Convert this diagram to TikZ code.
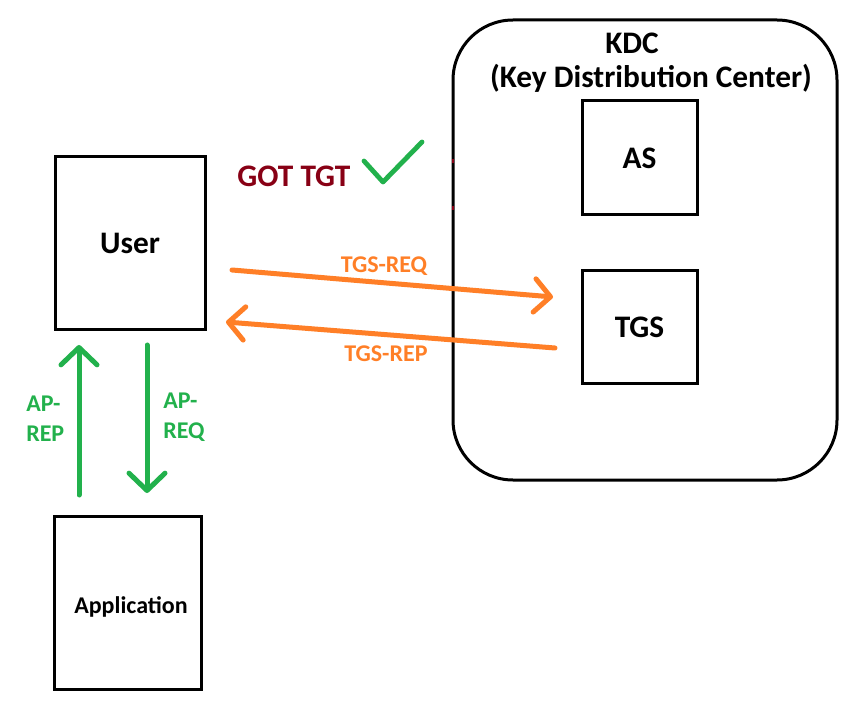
\documentclass[tikz,border=0pt]{standalone}
\usepackage{fontspec}
\setmainfont{Carlito}
\usetikzlibrary{arrows.meta}
\definecolor{kgreen}{HTML}{22B14C}
\definecolor{korange}{HTML}{FF7F27}
\definecolor{kred}{HTML}{880015}
\begin{document}
\begin{tikzpicture}[x=0.75pt,y=-0.75pt,
  box/.style={draw=black, line width=2.25pt, inner sep=0pt, outer sep=0pt, font=\bfseries\fontsize{23.5}{28}\selectfont},
  big/.style={font=\bfseries\fontsize{23.5}{28}\selectfont, inner sep=0pt},
  small/.style={font=\bfseries\fontsize{18}{22.5}\selectfont, inner sep=0pt, align=left},
  oarrow/.style={korange, line width=3.75pt, line cap=round, -{Straight Barb[length=12pt,width=25pt,round]}},
  garrow/.style={kgreen, line width=3.75pt, line cap=round, -{Straight Barb[length=13pt,width=27pt,round]}}]
\path[fill=white] (0,0) rectangle (853,716);
\useasboundingbox (0,0) rectangle (853,716);

% KDC
\node[draw=black, line width=2.25pt, rounded corners=45pt, minimum width=288pt, minimum height=345pt, outer sep=0pt] (kdc) at (645,250) {};
\node[big] (kdct) at (632,43) {KDC};
\node[big] (kdcs) at (651,78) {(Key Distribution Center)};
\node[box, minimum width=86.25pt, minimum height=85.5pt] (as) at (639.5,158) {AS};
\node[box, minimum width=86.25pt, minimum height=84.75pt] (tgs) at (639.5,327.5) {TGS};
\draw[kred, line width=2pt] (453,159) -- (453,163);
\draw[kred, line width=2pt] (453,206) -- (453,210);

% User and Application
\node[box, minimum width=112.5pt, minimum height=129.75pt] (user) at (130,243.5) {User};
\node[box, minimum width=110.25pt, minimum height=129.75pt] (app) at (128,603) {};
\node[font=\bfseries\fontsize{18}{22}\selectfont, inner sep=0pt] (appt) at (131,607) {Application};

% GOT TGT
\node[big, text=kred] (got) at (294,176) {GOT TGT};
\coordinate (ck1) at (364,161);
\coordinate (ck2) at (383,182);
\coordinate (ck3) at (422,142);
\draw[kgreen, line width=3.6pt, line cap=round, line join=round] (ck1) -- (ck2) -- (ck3);

% TGS arrows
\coordinate (reqs) at (232,270);
\coordinate (reqe) at (553,297);
\draw[oarrow] (reqs) -- (reqe);
\node[small, text=korange] (reql) at (384,266) {TGS-REQ};
\coordinate (reps) at (555,348);
\coordinate (repe) at (226,322);
\draw[oarrow] (reps) -- (repe);
\node[small, text=korange] (repl) at (386,354) {TGS-REP};

% AP arrows
\coordinate (aprs) at (79,495);
\coordinate (apre) at (79,345);
\draw[garrow] (aprs) -- (apre);
\node[small, text=kgreen, anchor=north west] (aprl) at (26,396) {AP-\\REP};
\coordinate (apqs) at (147,345);
\coordinate (apqe) at (147,493);
\draw[garrow] (apqs) -- (apqe);
\node[small, text=kgreen, anchor=north west] (apql) at (163,393) {AP-\\REQ};
\end{tikzpicture}
\end{document}
